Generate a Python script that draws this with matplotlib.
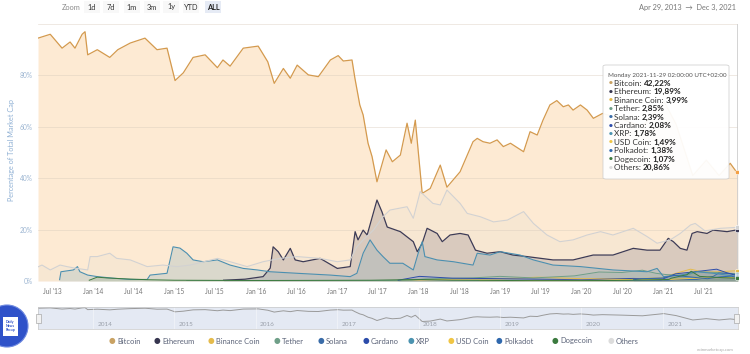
import matplotlib
matplotlib.use('Agg')
import matplotlib.pyplot as plt
import matplotlib.dates as mdates
from matplotlib.patches import FancyBboxPatch, Ellipse, Rectangle

plt.rcParams['font.family'] = ['Lato', 'DejaVu Sans']

# ---- datos (% de la capitalizacion total) ----
btc_dates = ['2013-04-29', '2013-06-23', '2013-08-15', '2013-09-20', '2013-10-12', '2013-11-13',
             '2013-11-26', '2013-12-08', '2014-01-20', '2014-03-17', '2014-04-22', '2014-06-17',
             '2014-08-22', '2014-10-15', '2014-11-29', '2015-01-04', '2015-02-10', '2015-03-26',
             '2015-05-19', '2015-07-13', '2015-08-07', '2015-09-08', '2015-11-06', '2016-01-12',
             '2016-02-24', '2016-03-24', '2016-05-04', '2016-06-04', '2016-07-05', '2016-08-24',
             '2016-10-08', '2016-12-01', '2017-01-05', '2017-01-28', '2017-03-08', '2017-03-21',
             '2017-04-12', '2017-04-27', '2017-05-19', '2017-06-06', '2017-06-28', '2017-08-08',
             '2017-09-05', '2017-10-11', '2017-11-10', '2017-11-29', '2017-12-17', '2018-01-17',
             '2018-02-22', '2018-04-08', '2018-05-08', '2018-07-06', '2018-09-02', '2018-09-21',
             '2018-10-17', '2018-11-17', '2018-12-19', '2019-01-16', '2019-02-17', '2019-04-17',
             '2019-05-16', '2019-06-17', '2019-07-13', '2019-08-13', '2019-09-13', '2019-10-12',
             '2019-11-04', '2019-11-25', '2019-12-28', '2020-01-27', '2020-02-24', '2020-04-05',
             '2020-07-01', '2020-10-01', '2021-01-05', '2021-03-01', '2021-05-15', '2021-07-15',
             '2021-09-10', '2021-10-30', '2021-11-29', '2021-12-03']
btc_vals = [94.5, 96, 90.6, 93, 90.6, 96,
            97, 88, 90, 87, 90, 92.6,
            94.5, 90, 90.6, 78, 81, 87,
            88, 83, 86, 83.6, 90.6, 91.4,
            85.3, 76.9, 82.7, 78.9, 84, 80.2,
            79.5, 86, 87.7, 85.6, 86, 78.9,
            68.5, 64.6, 53.6, 48.4, 38.6, 51,
            46.4, 49, 61.4, 53.6, 62.6, 34.1,
            36, 45.1, 36.5, 42.5, 54.2, 55.5,
            54.2, 53.6, 54.9, 52.3, 53.6, 50.3,
            58.1, 56.8, 62.6, 68.5, 70.2, 67.8,
            68.5, 66.5, 68.5, 66.5, 63.3, 65.2,
            63, 60, 70, 61, 41, 47,
            41, 45.8, 42.22, 42]

eth_dates = ['2015-08-10', '2015-11-14', '2016-02-03', '2016-03-06', '2016-03-19', '2016-04-11',
             '2016-05-04', '2016-06-04', '2016-06-26', '2016-08-01', '2016-10-16', '2017-01-01',
             '2017-02-28', '2017-03-22', '2017-04-04', '2017-04-27', '2017-05-15', '2017-06-28',
             '2017-07-20', '2017-08-13', '2017-10-11', '2017-12-08', '2017-12-26', '2018-01-17',
             '2018-02-08', '2018-03-25', '2018-04-17', '2018-05-22', '2018-07-06', '2018-08-11',
             '2018-09-13', '2018-11-04', '2019-01-02', '2019-02-28', '2019-05-02', '2019-08-27',
             '2019-11-25', '2020-02-23', '2020-05-22', '2020-08-21', '2020-10-22', '2020-12-19',
             '2021-01-25', '2021-02-17', '2021-03-20', '2021-04-19', '2021-05-12', '2021-06-04',
             '2021-07-18', '2021-08-14', '2021-10-16', '2021-11-29', '2021-12-03']
eth_vals = [0.3, 0.7, 1.7, 5, 13.3, 11.4,
            8.2, 12.7, 8.2, 7.5, 8.8, 4.9,
            5.6, 19.2, 16, 19.8, 17.9, 31.5,
            27, 21, 19.2, 15.3, 11.4, 14.7,
            20.5, 18.5, 15.3, 17.9, 18.5, 17.9,
            12, 10.8, 11.4, 10.1, 9.5, 8.2,
            8.2, 10.1, 10.1, 12.7, 12, 12,
            16.6, 15.3, 12.7, 12, 18.5, 19.2,
            18.5, 19.8, 19.2, 19.89, 19.9]

others_dates = ['2013-04-29', '2013-05-17', '2013-06-23', '2013-08-06', '2013-09-06', '2013-10-12',
                '2013-12-08', '2013-12-19', '2014-01-20', '2014-03-17', '2014-04-17', '2014-06-17',
                '2014-09-01', '2014-11-10', '2015-01-13', '2015-03-13', '2015-07-13', '2015-09-08',
                '2015-11-23', '2016-02-03', '2016-04-19', '2016-07-05', '2016-10-16', '2017-01-01',
                '2017-02-28', '2017-03-30', '2017-04-27', '2017-06-12', '2017-07-25', '2017-08-25',
                '2017-11-10', '2017-12-08', '2018-01-08', '2018-03-06', '2018-04-08', '2018-05-08',
                '2018-07-06', '2018-08-07', '2018-10-05', '2018-12-03', '2019-02-03', '2019-04-17',
                '2019-05-31', '2019-07-31', '2019-09-27', '2019-11-25', '2020-01-27', '2020-03-27',
                '2020-05-22', '2020-08-21', '2020-10-22', '2020-12-06', '2021-02-03', '2021-03-20',
                '2021-05-05', '2021-05-26', '2021-07-09', '2021-09-16', '2021-11-29', '2021-12-03']
others_vals = [5.5, 6.2, 4.3, 6.2, 5.6, 5,
               4.3, 9.5, 9.5, 10.8, 8.8, 8.2,
               5.6, 6.2, 5.6, 6.2, 8.8, 7.5,
               5.6, 7.5, 8.8, 9.5, 8.8, 7.5,
               8.2, 13.3, 16, 19.8, 25, 27.6,
               28.9, 24.4, 34.8, 30.2, 29.6, 35.4,
               30.2, 26.3, 25, 23, 23.7, 27,
               22.4, 17.9, 15.3, 16, 17.9, 19.2,
               17.9, 20.5, 17.3, 14.7, 16, 18.5,
               21.8, 22.4, 19.5, 20.5, 20.86, 20.9]

xrp_dates = ['2013-08-04', '2013-08-10', '2013-10-05', '2013-10-23', '2013-11-03', '2013-12-08',
             '2014-01-20', '2014-04-01', '2014-06-17', '2014-09-01', '2014-09-14', '2014-11-29',
             '2014-12-26', '2015-01-26', '2015-02-26', '2015-03-26', '2015-05-10', '2015-07-13',
             '2015-09-08', '2015-11-06', '2016-01-08', '2016-03-06', '2016-07-05', '2016-12-01',
             '2017-02-28', '2017-03-30', '2017-04-27', '2017-05-28', '2017-06-28', '2017-07-25',
             '2017-08-25', '2017-10-22', '2017-12-08', '2017-12-30', '2018-01-17', '2018-01-29',
             '2018-03-25', '2018-06-06', '2018-09-02', '2018-09-21', '2018-11-17', '2019-01-02',
             '2019-04-01', '2019-05-31', '2019-08-27', '2019-12-28', '2020-05-22', '2020-10-22',
             '2020-12-06', '2021-01-04', '2021-03-20', '2021-06-04', '2021-08-14', '2021-11-29',
             '2021-12-03']
xrp_vals = [0.5, 3.6, 4.3, 5.6, 3.6, 2.3,
            1.7, 1.1, 0.6, 0.6, 2.3, 3,
            13.3, 12.8, 10.8, 8.2, 7.5, 8.2,
            6.2, 4.9, 4.3, 3.6, 3, 2.3,
            1.7, 3, 10.8, 16, 12, 9.5,
            6.9, 6.9, 4.3, 10.8, 15.3, 9.5,
            8.2, 7.5, 6.2, 10.8, 10.1, 11.4,
            10.1, 8.2, 6.2, 5.6, 4.3, 3.6,
            4.9, 1.7, 2.3, 3.6, 3, 1.78,
            1.8]

usdt_dates = ['2015-02-25', '2017-06-01', '2017-12-01', '2018-02-01', '2018-09-01', '2019-01-01',
              '2019-06-01', '2019-12-01', '2020-03-20', '2020-07-01', '2020-10-01', '2020-12-01',
              '2021-01-15', '2021-04-15', '2021-06-01', '2021-09-01', '2021-11-29', '2021-12-03']
usdt_vals = [0.05, 0.1, 0.3, 0.8, 1.2, 1.8,
             1.2, 2.0, 3.5, 3.3, 4.2, 3.0,
             2.5, 2.1, 3.6, 3.3, 2.85, 2.85]

bnb_dates = ['2017-07-25', '2018-01-10', '2018-06-01', '2019-01-01', '2019-06-20', '2020-01-01',
             '2020-08-01', '2021-01-01', '2021-02-20', '2021-05-05', '2021-07-01', '2021-09-05',
             '2021-11-29', '2021-12-03']
bnb_vals = [0.05, 0.4, 0.7, 0.8, 1.5, 0.9,
            0.9, 1.2, 2.8, 4.6, 3.5, 3.6,
            3.99, 4.0]

ada_dates = ['2017-10-01', '2018-01-05', '2018-06-01', '2019-01-01', '2020-01-01', '2020-08-20',
             '2021-01-01', '2021-02-27', '2021-05-15', '2021-08-30', '2021-10-15', '2021-11-29',
             '2021-12-03']
ada_vals = [0.3, 1.8, 1.1, 0.9, 0.5, 1.0,
            0.8, 2.8, 3.5, 4.6, 3.2, 2.08,
            2.05]

sol_dates = ['2020-04-10', '2020-12-01', '2021-03-01', '2021-06-01', '2021-08-15', '2021-09-09',
             '2021-11-06', '2021-11-29', '2021-12-03']
sol_vals = [0.05, 0.1, 0.5, 0.6, 1.8, 3.1,
            2.8, 2.39, 2.4]

usdc_dates = ['2018-10-01', '2019-06-01', '2020-03-20', '2020-10-01', '2021-01-01', '2021-06-01',
              '2021-09-01', '2021-11-29', '2021-12-03']
usdc_vals = [0.1, 0.2, 0.3, 0.7, 0.5, 1.1,
             1.3, 1.49, 1.5]

dot_dates = ['2020-08-22', '2020-10-01', '2021-01-01', '2021-02-20', '2021-05-01', '2021-07-20',
             '2021-09-15', '2021-11-04', '2021-11-29', '2021-12-03']
dot_vals = [0.5, 0.9, 1.2, 2.2, 1.6, 0.9,
            1.6, 1.9, 1.38, 1.35]

doge_dates = ['2013-12-15', '2014-01-20', '2014-03-01', '2014-06-01', '2014-09-01', '2015-01-01',
              '2016-01-01', '2017-06-01', '2018-01-08', '2018-06-01', '2019-06-01', '2020-06-01',
              '2021-01-28', '2021-02-08', '2021-04-20', '2021-05-08', '2021-06-15', '2021-09-01',
              '2021-11-29', '2021-12-03']
doge_vals = [0.3, 1.5, 1.2, 0.8, 0.5, 0.3,
             0.2, 0.3, 0.6, 0.3, 0.15, 0.2,
             0.6, 1.1, 2.5, 3.8, 1.8, 1.4,
             1.07, 1.05]

legend_names = ['Bitcoin', 'Ethereum', 'Binance Coin', 'Tether', 'Solana', 'Cardano',
                'XRP', 'USD Coin', 'Polkadot', 'Dogecoin', 'Others']
legend_colors = ['#c9a263', '#36354f', '#e5bb4c', '#6f9f88', '#3a6ca8', '#2c4caa',
                 '#4b93b0', '#f0c544', '#2f68ad', '#3b7a3e', '#dcdcdc']
tooltip_vals = ['42,22%', '19,89%', '3,99%', '2,85%', '2,39%', '2,08%',
                '1,78%', '1,49%', '1,38%', '1,07%', '20,86%']

xtick_dates = ['2013-07-01', '2014-01-01', '2014-07-01', '2015-01-01', '2015-07-01', '2016-01-01',
               '2016-07-01', '2017-01-01', '2017-07-01', '2018-01-01', '2018-07-01', '2019-01-01',
               '2019-07-01', '2020-01-01', '2020-07-01', '2021-01-01', '2021-07-01']
xtick_labels = ["Jul '13", "Jan '14", "Jul '14", "Jan '15", "Jul '15", "Jan '16",
                "Jul '16", "Jan '17", "Jul '17", "Jan '18", "Jul '18", "Jan '19",
                "Jul '19", "Jan '20", "Jul '20", "Jan '21", "Jul '21"]
nav_years = ['2014', '2015', '2016', '2017', '2018', '2019', '2020', '2021']

# series en orden de dibujo: (fechas, valores, color linea, ancho, alpha relleno)
series = [
    (btc_dates, btc_vals, '#d49a4e', 0.9, 0.0),
    (eth_dates, eth_vals, '#3d3b56', 0.9, 0.18),
    (bnb_dates, bnb_vals, '#e5bb4c', 0.7, 0.15),
    (usdt_dates, usdt_vals, '#6f9f88', 0.7, 0.15),
    (sol_dates, sol_vals, '#3a6ca8', 0.7, 0.15),
    (ada_dates, ada_vals, '#2c4caa', 0.7, 0.15),
    (xrp_dates, xrp_vals, '#4b8fb0', 0.8, 0.18),
    (usdc_dates, usdc_vals, '#f0c544', 0.7, 0.15),
    (dot_dates, dot_vals, '#2f68ad', 0.7, 0.15),
    (doge_dates, doge_vals, '#3b7a3e', 0.7, 0.15),
    (others_dates, others_vals, '#d2d2d2', 0.8, 0.12),
]

W, H = 750, 354
fig = plt.figure(figsize=(7.5, 3.54), dpi=100)


def fx(px):
    return px / W


def fy(py):
    return 1 - py / H


x0 = mdates.datestr2num('2013-04-29')
x1 = mdates.datestr2num('2021-12-04')

ax = fig.add_axes([fx(38), fy(281), fx(700), 257 / H])
ax.set_xlim(x0, x1)
ax.set_ylim(0, 100)

# relleno de bitcoin
bd = mdates.datestr2num(btc_dates)
ax.fill_between(bd, btc_vals, 0, color='#f7931a', alpha=0.19, lw=0, zorder=1)

for i, (d, v, c, lw, a) in enumerate(series):
    dn = mdates.datestr2num(d)
    if a > 0:
        ax.fill_between(dn, v, 0, color=c, alpha=a, lw=0, zorder=2 + i)
    ax.plot(dn, v, color=c, lw=lw, zorder=20 + i, solid_joinstyle='round')

# cuadricula
for g in range(0, 101, 20):
    ax.axhline(g, color='#d9cbbd', lw=0.5, alpha=0.6, zorder=15)

ax.set_yticks([0, 20, 40, 60, 80])
ax.set_yticklabels(['0%', '20%', '40%', '60%', '80%'])
ax.set_xticks(mdates.datestr2num(xtick_dates))
ax.set_xticklabels(xtick_labels)
ax.tick_params(axis='y', length=0, labelsize=4.8, labelcolor='#9db6d2', pad=4)
ax.tick_params(axis='x', length=0, labelsize=4.8, labelcolor='#777777', pad=5)
for s in ax.spines.values():
    s.set_visible(False)
ax.set_ylabel('Percentage of Total Market Cap', fontsize=5.2, color='#8fb0d4')
ax.yaxis.set_label_coords((15 - 38) / 700, (281 - 150) / 257)

# linea del cursor y marcadores del tooltip
hover = mdates.datestr2num('2021-11-29')
ax.axvline(hover, color='#cccccc', lw=0.6, zorder=30)
for (d, v, c, lw, a), tv in zip(series, tooltip_vals):
    val = float(tv.replace('%', '').replace(',', '.'))
    col = '#f4a044' if c == '#d49a4e' else c
    ax.plot(hover, val, 'o', ms=3.2, color=col, mec='white', mew=0.4, zorder=40)

# tooltip
tip = FancyBboxPatch((fx(603), fy(179)), fx(126), 114 / H,
                     boxstyle='round,pad=0,rounding_size=0.004',
                     transform=fig.transFigure, fc='white', ec='#c8c8c8', lw=0.5,
                     alpha=0.95, zorder=50)
fig.patches.append(tip)
fig.text(fx(608), fy(75), 'Monday 2021-11-29 02:00:00 UTC+02:00', fontsize=4.5,
         color='#555555', va='center', zorder=60)
fig.canvas.draw()
renderer = fig.canvas.get_renderer()
for k, (name, tv) in enumerate(zip(legend_names, tooltip_vals)):
    yy = fy(83.3 + k * 8.43)
    fig.text(fx(609), yy, '\u25cf', fontsize=3.2, color=legend_colors[k], va='center',
             family='DejaVu Sans', zorder=60)
    t = fig.text(fx(614), yy, name + ': ', fontsize=5.9, color='#333333', va='center', zorder=60)
    bb = t.get_window_extent(renderer)
    fig.text(bb.x1 / fig.bbox.width, yy, tv, fontsize=5.9, color='#222222', weight='bold',
             va='center', zorder=60)

# selector superior
fig.text(fx(71), fy(7), 'Zoom', fontsize=5.3, color='#8a8a8a', ha='center', va='center')
for lab, xc in zip(['1d', '7d', '1m', '3m', '1y', 'YTD', 'ALL'], [92, 111, 132, 152, 171, 191, 213]):
    bold = lab == 'ALL'
    fig.patches.append(Rectangle((fx(xc - 8), fy(13)), fx(16), 12 / H, transform=fig.transFigure,
                                 fc='#e6ebf5' if bold else '#f8f8f8', ec='none'))
    fig.text(fx(xc), fy(7), lab, fontsize=5.3, color='#222222' if bold else '#333333',
             weight='bold' if bold else 'normal', ha='center', va='center')
fig.text(fx(736), fy(7), 'Apr 29, 2013  \u2192  Dec 3, 2021', fontsize=5.3, color='#777777',
         ha='right', va='center')

# navegador
nav = fig.add_axes([fx(38), fy(329), fx(700), 22 / H])
nav.set_xlim(x0, x1)
nav.set_ylim(0, 100)
nav.set_facecolor('#e4e9f3')
nav.plot(bd, btc_vals, color='#9a9a9a', lw=0.7)
for yr in nav_years:
    xd = mdates.datestr2num(yr + '-01-01')
    nav.axvline(xd, color='#ffffff', lw=0.4, alpha=0.7)
    nav.text(xd + 20, 22, yr, fontsize=4.6, color='#9aa0aa', ha='left', va='center')
nav.set_xticks([])
nav.set_yticks([])
for s in nav.spines.values():
    s.set_color('#c8c8c8')
    s.set_linewidth(0.5)
for hx in [38, 736]:
    fig.patches.append(Rectangle((fx(hx - 2), fy(323)), fx(5), 9 / H, transform=fig.transFigure,
                                 fc='#f2f2f2', ec='#999999', lw=0.4, zorder=10))

# leyenda
leg_x = [112, 157, 211, 277, 321, 366, 411, 451, 499, 555, 611]
for name, c, lx in zip(legend_names, legend_colors, leg_x):
    fig.text(fx(lx), fy(341), '\u25cf', fontsize=5.5, color=c, ha='center', va='center',
             family='DejaVu Sans')
    fig.text(fx(lx + 5), fy(341), name, fontsize=5.4, color='#5b6378', ha='left', va='center')

fig.text(fx(734), fy(350), 'coinmarketcap.com', fontsize=3.2, color='#aaaaaa', ha='right',
         va='center')

# logo
fig.patches.append(Ellipse((fx(7), fy(326)), 42 / W, 42 / H, transform=fig.transFigure,
                           fc='#2f52c9', ec='#6f8ae0', lw=0.8))
fig.patches.append(Rectangle((fx(3), fy(336)), fx(15), 19 / H, transform=fig.transFigure,
                             fc='white', ec='none'))
fig.text(fx(10.5), fy(326), 'Daily\nNews\nRecap', fontsize=2.6, color='#2f52c9', ha='center',
         va='center', weight='bold', linespacing=1.0)

fig.savefig('out.png', dpi=100)
